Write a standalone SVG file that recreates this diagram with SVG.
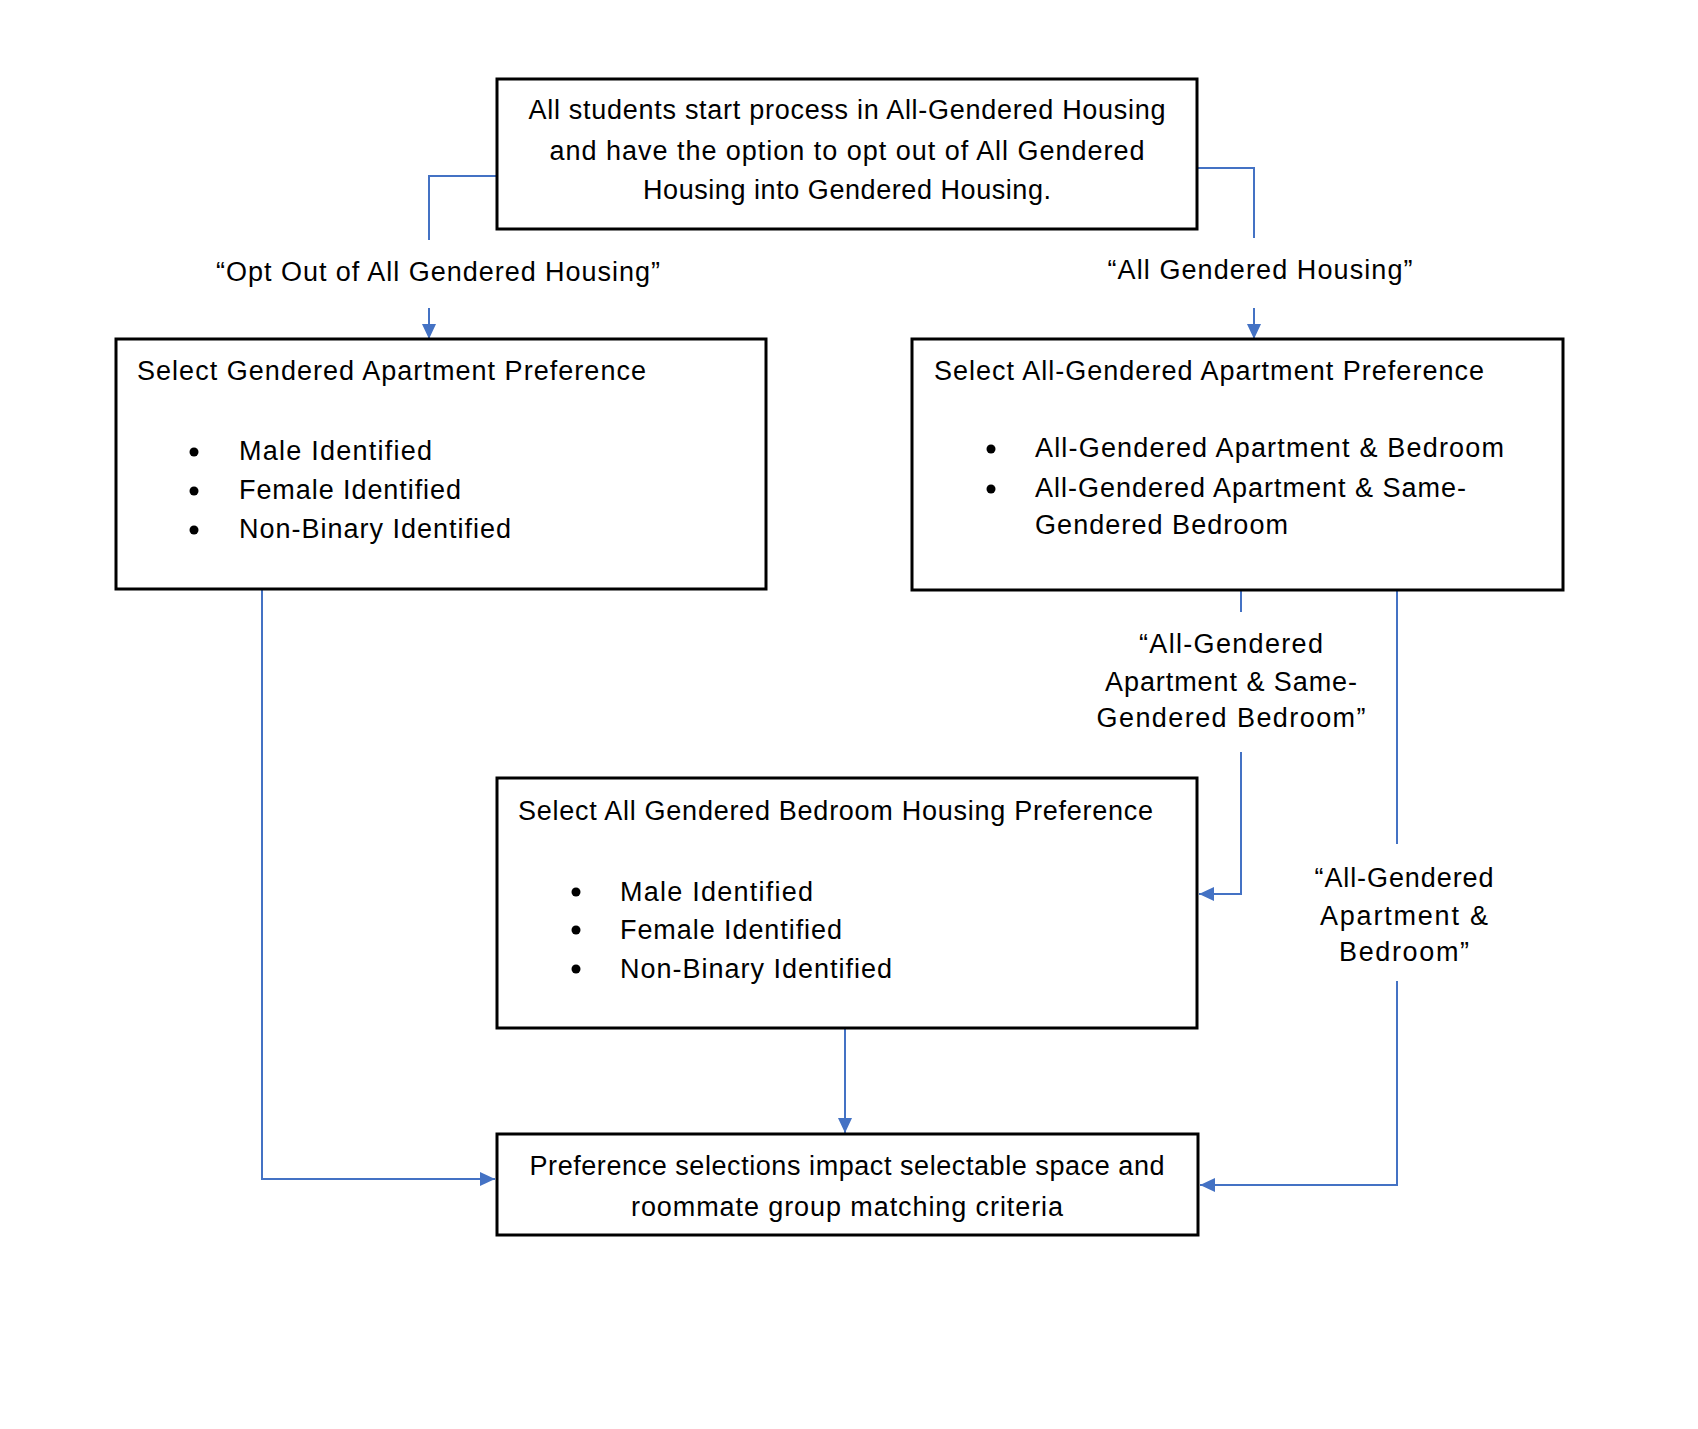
<svg xmlns="http://www.w3.org/2000/svg" width="1698" height="1429" viewBox="0 0 1698 1429">
<style>
  .box { fill: #ffffff; stroke: #000000; stroke-width: 3; }
  .t { font-family: "Liberation Sans", Arial, sans-serif; font-size: 27px; fill: #000000; }
  .c { text-anchor: middle; }
  .conn { fill: none; stroke: #4472C4; stroke-width: 2; }
  .bul { fill: #000000; }
</style>
<defs>
  <marker id="arr" markerUnits="userSpaceOnUse" markerWidth="16" markerHeight="16" refX="15" refY="7" orient="auto">
    <path d="M0,0 L15,7 L0,14 z" fill="#4472C4"/>
  </marker>
</defs>
<rect width="1698" height="1429" fill="#ffffff"/>

<g id="connectors">
  <polyline class="conn" points="497,176 429,176 429,240"/>
  <line class="conn" x1="429" y1="308" x2="429" y2="339" marker-end="url(#arr)"/>
  <polyline class="conn" points="1197,168 1254,168 1254,238"/>
  <line class="conn" x1="1254" y1="308" x2="1254" y2="339" marker-end="url(#arr)"/>
  <line class="conn" x1="1241" y1="590" x2="1241" y2="612"/>
  <polyline class="conn" points="1241,752 1241,894 1199,894" stroke-width="2.5" marker-end="url(#arr)"/>
  <line class="conn" x1="1397" y1="590" x2="1397" y2="844" stroke-width="1.6"/>
  <polyline class="conn" points="1397,981 1397,1185 1200,1185" marker-end="url(#arr)"/>
  <line class="conn" x1="845" y1="1028" x2="845" y2="1133" stroke-width="2.5" marker-end="url(#arr)"/>
  <polyline class="conn" points="262,589 262,1179 495,1179" stroke-width="2.5" marker-end="url(#arr)"/>
  <text class="t c" x="438" y="281" textLength="444">“Opt Out of All Gendered Housing”</text>
  <text class="t c" x="1260" y="279" textLength="305">“All Gendered Housing”</text>
  <text class="t c" x="1231" y="653" textLength="184">“All-Gendered</text>
  <text class="t c" x="1231" y="691" textLength="252">Apartment &amp; Same-</text>
  <text class="t c" x="1231" y="727" textLength="269">Gendered Bedroom”</text>
  <text class="t c" x="1404" y="887" textLength="179">“All-Gendered</text>
  <text class="t c" x="1404" y="925" textLength="168">Apartment &amp;</text>
  <text class="t c" x="1404" y="961" textLength="130">Bedroom”</text>
</g>

<g id="start">
  <rect class="box" x="497" y="79" width="700" height="150"/>
  <text class="t c" x="847" y="119" textLength="637">All students start process in All-Gendered Housing</text>
  <text class="t c" x="847" y="160" textLength="595">and have the option to opt out of All Gendered</text>
  <text class="t c" x="847" y="199" textLength="408">Housing into Gendered Housing.</text>
</g>

<g id="gendered-apartment">
  <rect class="box" x="116" y="339" width="650" height="250"/>
  <text class="t" x="137" y="380" textLength="509">Select Gendered Apartment Preference</text>
  <circle class="bul" cx="194" cy="452" r="4.5"/>
  <circle class="bul" cx="194" cy="491" r="4.5"/>
  <circle class="bul" cx="194" cy="530" r="4.5"/>
  <text class="t" x="239" y="460" textLength="193">Male Identified</text>
  <text class="t" x="239" y="499" textLength="222">Female Identified</text>
  <text class="t" x="239" y="538" textLength="272">Non-Binary Identified</text>
</g>

<g id="all-gendered-apartment">
  <rect class="box" x="912" y="339" width="651" height="251"/>
  <text class="t" x="934" y="380" textLength="550">Select All-Gendered Apartment Preference</text>
  <circle class="bul" cx="991" cy="449" r="4.5"/>
  <circle class="bul" cx="991" cy="489" r="4.5"/>
  <text class="t" x="1035" y="457" textLength="469">All-Gendered Apartment &amp; Bedroom</text>
  <text class="t" x="1035" y="497" textLength="431">All-Gendered Apartment &amp; Same-</text>
  <text class="t" x="1035" y="534" textLength="253">Gendered Bedroom</text>
</g>

<g id="bedroom-housing">
  <rect class="box" x="497" y="778" width="700" height="250"/>
  <text class="t" x="518" y="820" textLength="635">Select All Gendered Bedroom Housing Preference</text>
  <circle class="bul" cx="576" cy="892" r="4.5"/>
  <circle class="bul" cx="576" cy="930" r="4.5"/>
  <circle class="bul" cx="576" cy="969" r="4.5"/>
  <text class="t" x="620" y="901" textLength="193">Male Identified</text>
  <text class="t" x="620" y="939" textLength="222">Female Identified</text>
  <text class="t" x="620" y="978" textLength="272">Non-Binary Identified</text>
</g>

<g id="result">
  <rect class="box" x="497" y="1134" width="701" height="101"/>
  <text class="t c" x="847" y="1175" textLength="635">Preference selections impact selectable space and</text>
  <text class="t c" x="847" y="1216" textLength="432">roommate group matching criteria</text>
</g>
</svg>
